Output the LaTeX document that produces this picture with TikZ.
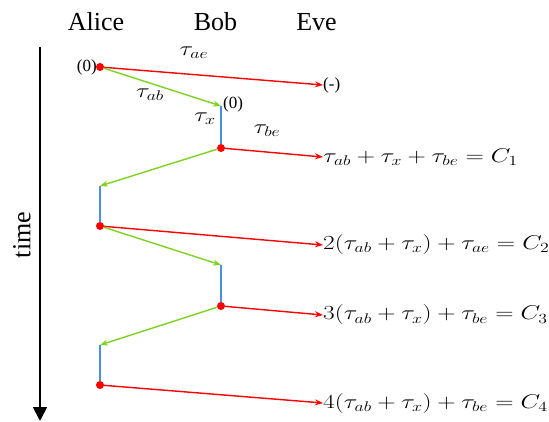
\RequirePackage{fix-cm}
\documentclass[tikz,border=0pt]{standalone}
\usepackage{fontspec}
\setmainfont{Liberation Serif}
\usetikzlibrary{arrows.meta}
\definecolor{msgred}{RGB}{255,0,0}
\definecolor{msggreen}{RGB}{126,211,33}
\definecolor{waitblue}{RGB}{74,144,226}
\newcommand{\widemath}[1]{\scalebox{1.27}[1]{$#1$}}
\tikzset{
  ev/.style={circle, fill=msgred, inner sep=0pt, minimum size=8pt},
  tored/.style={-{Stealth[length=8pt,width=6pt]}, msgred, line width=1.4pt},
  togreen/.style={-{Stealth[length=8pt,width=6pt]}, msggreen, line width=1.4pt},
  wait/.style={waitblue, line width=1.4pt},
  res/.style={anchor=west, inner sep=0pt, font=\fontsize{20}{24}\selectfont},
  delay/.style={inner sep=0pt, font=\fontsize{20}{24}\selectfont},
  stamp/.style={inner sep=0pt, font=\fontsize{17}{20}\selectfont},
  who/.style={inner sep=0pt, font=\fontsize{26}{30}\selectfont}
}
\begin{document}
\begin{tikzpicture}[x=1pt, y=-1pt]
    \useasboundingbox (0,0) rectangle (549,422);

    % Parties
    \node[who] (alice) at (96,22) {Alice};
    \node[who] (bob) at (215.5,22) {Bob};
    \node[who] (eve) at (316.5,22) {Eve};

    % Axe du temps
    \coordinate (t0) at (40,47);
    \coordinate (t1) at (40,421);
    \draw[-{Triangle[length=14pt,width=14pt]}, line width=1.8pt] (t0) -- (t1);
    \node[who, rotate=90] (time) at (22,235) {time};

    % Events
    \node[ev] (a0) at (100,67) {};
    \coordinate (b0) at (221,106);
    \node[ev] (b1) at (221,148) {};
    \coordinate (a1) at (100,186);
    \node[ev] (a2) at (100,226) {};
    \coordinate (b2) at (221,265);
    \node[ev] (b3) at (221,306) {};
    \coordinate (a3) at (100,345);
    \node[ev] (a4) at (100,385) {};

    % What Eve sees
    \node[stamp, anchor=west] (e0) at (323,85) {(-)};
    \node[res] (e1) at (323,157) {\widemath{\tau_{ab}+\tau_x+\tau_{be}=C_1}};
    \node[res] (e2) at (323,245) {\widemath{2(\tau_{ab}+\tau_x)+\tau_{ae}=C_2}};
    \node[res] (e3) at (323,315) {\widemath{3(\tau_{ab}+\tau_x)+\tau_{be}=C_3}};
    \node[res] (e4) at (323,403) {\widemath{4(\tau_{ab}+\tau_x)+\tau_{be}=C_4}};

    % Messages
    \draw[tored] (a0) -- (e0.west);
    \draw[togreen] (a0) -- (b0);
    \draw[wait] (b0) -- (b1);
    \draw[tored] (b1) -- (e1.west);
    \draw[togreen] (b1) -- (a1);
    \draw[wait] (a1) -- (a2);
    \draw[tored] (a2) -- (e2.west);
    \draw[togreen] (a2) -- (b2);
    \draw[wait] (b2) -- (b3);
    \draw[tored] (b3) -- (e3.west);
    \draw[togreen] (b3) -- (a3);
    \draw[wait] (a3) -- (a4);
    \draw[tored] (a4) -- (e4.west);

    % Labels
    \node[stamp, anchor=east] (s0) at (97,67) {(0)};
    \node[stamp, anchor=west] (s1) at (223,104) {(0)};
    \node[delay] (dae) at (194,53) {\widemath{\tau_{ae}}};
    \node[delay] (dab) at (150,95) {\widemath{\tau_{ab}}};
    \node[delay] (dx) at (205,119) {\widemath{\tau_x}};
    \node[delay] (dbe) at (267,131) {\widemath{\tau_{be}}};
\end{tikzpicture}
\end{document}
